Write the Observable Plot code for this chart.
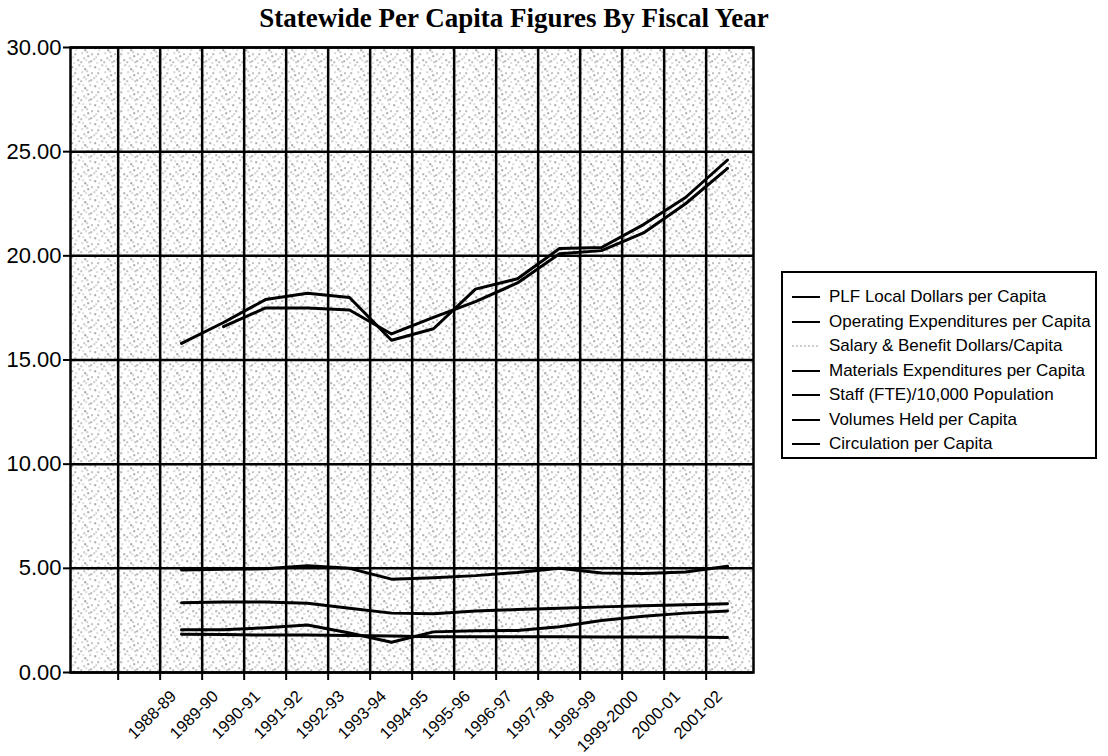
<!DOCTYPE html>
<html>
<head>
<meta charset="utf-8">
<script src="https://cdn.jsdelivr.net/npm/d3@7"></script>
<script src="https://cdn.jsdelivr.net/npm/@observablehq/plot@0.6"></script>
<style>
  html, body { margin: 0; padding: 0; background: #fff; }
  #wrap { position: relative; width: 1108px; height: 756px; overflow: hidden; font-family: "Liberation Sans", Arial, sans-serif; }
  #title { position: absolute; left: 0; top: 3px; width: 1028px; text-align: center;
           font-family: "Liberation Serif", "Times New Roman", serif; font-weight: bold; font-size: 27px; color: #000; }
  #chart { position: absolute; left: 0; top: 25px; }
  #legend { position: absolute; left: 781px; top: 271px; width: 316px; height: 188px; border: 2px solid #000; box-sizing: border-box; }
  .li { position: absolute; left: 8px; height: 20px; display: flex; align-items: center; font-size: 17px; color: #000; white-space: nowrap; }
  .li svg { margin-right: 8px; }
  svg text { fill: #000; }
  g[aria-label="y-axis tick label"] text { font-size: 22px; }
  g[aria-label="x-axis tick label"] text { font-size: 16.5px; }
</style>
</head>
<body>
<div id="wrap">
  <div id="title">Statewide Per Capita Figures By Fiscal Year</div>
  <div id="chart"></div>
  <div id="legend"></div>
</div>
<script>
// ---- data ----
const leadingSlots = ["", " "];           // two unlabeled category slots before 1988-89
const categories = ["1988-89","1989-90","1990-91","1991-92","1992-93","1993-94","1994-95",
                    "1995-96","1996-97","1997-98","1998-99","1999-2000","2000-01","2001-02"];
const yTicks = [0, 5, 10, 15, 20, 25, 30];

const seriesNames = [
  "PLF Local Dollars per Capita",
  "Operating Expenditures per Capita",
  "Salary & Benefit Dollars/Capita",
  "Materials Expenditures per Capita",
  "Staff (FTE)/10,000 Population",
  "Volumes Held per Capita",
  "Circulation per Capita"
];

const plfLocal      = [15.8, 16.8, 17.9, 18.2, 18.0, 15.95, 16.5, 18.4, 18.9, 20.35, 20.4, 21.5, 22.8, 24.6];
const operating     = [null, 16.6, 17.5, 17.5, 17.4, 16.25, 17.05, 17.8, 18.7, 20.1, 20.25, 21.1, 22.5, 24.2];
const salaryBenefit = [];   // not visible in the chart
const materials     = [2.05, 2.05, 2.15, 2.28, 1.9, 1.45, 1.95, 2.0, 2.02, 2.2, 2.5, 2.7, 2.85, 2.95];
const staff         = [3.35, 3.38, 3.38, 3.32, 3.08, 2.85, 2.82, 2.95, 3.02, 3.08, 3.15, 3.2, 3.25, 3.3];
const volumes       = [4.92, 4.95, 4.98, 5.12, 5.0, 4.48, 4.55, 4.65, 4.8, 5.0, 4.78, 4.75, 4.82, 5.1];
const circulation   = [1.84, 1.82, 1.8, 1.8, 1.78, 1.75, 1.72, 1.72, 1.72, 1.72, 1.7, 1.7, 1.7, 1.68];

const seriesValues = [plfLocal, operating, salaryBenefit, materials, staff, volumes, circulation];

// ---- build long table ----
const rows = [];
seriesNames.forEach((name, si) => {
  seriesValues[si].forEach((v, i) => {
    if (v != null) rows.push({series: name, cat: categories[i], value: v});
  });
});

const domain = [...leadingSlots, ...categories];
const W = 770, H = 731, mL = 70, mR = 17, mT = 22, mB = 84;
const bw = (W - mL - mR) / domain.length;

const chart = Plot.plot({
  width: W, height: H,
  marginLeft: mL, marginRight: mR, marginTop: mT, marginBottom: mB,
  style: {fontFamily: "'Liberation Sans', Arial, sans-serif", fontSize: "15px", color: "#000", background: "transparent"},
  x: {type: "band", domain, padding: 0, axis: null, label: null},
  y: {domain: [0, 30], axis: null, label: null},
  marks: [
    Plot.frame({fill: "url(#stipple)", stroke: "none"}),
    Plot.gridY(yTicks, {stroke: "#000", strokeOpacity: 1, strokeWidth: 2.5}),
    Plot.ruleX(domain.slice(1), {x: d => d, dx: -bw / 2, stroke: "#000", strokeWidth: 2.5}),
    Plot.axisX(domain.slice(1), {tickSize: 8, dx: -bw / 2, text: null, label: null, stroke: "#000", strokeWidth: 2}),
    Plot.axisX(categories, {tickSize: 0, tickPadding: 21, dx: -8, tickRotate: -45, label: null}),
    Plot.axisY(yTicks, {tickSize: 7, tickPadding: 2, tickFormat: d3.format(".2f"), label: null, stroke: "#000", strokeWidth: 2}),
    Plot.line(rows, {x: "cat", y: "value", z: "series", stroke: "#000", strokeWidth: 3, strokeLinejoin: "round"}),
    Plot.frame({stroke: "#000", strokeWidth: 2.5})
  ]
});

// stipple texture for the plot background
const ns = "http://www.w3.org/2000/svg";
const defs = document.createElementNS(ns, "defs");
const pat = document.createElementNS(ns, "pattern");
pat.setAttribute("id", "stipple");
pat.setAttribute("width", "23");
pat.setAttribute("height", "19");
pat.setAttribute("patternUnits", "userSpaceOnUse");
const dots = [[2,3,"#333"],[9,1,"#777"],[15,5,"#222"],[20,2,"#888"],[5,9,"#555"],[12,8,"#999"],[18,11,"#333"],
              [1,14,"#888"],[8,15,"#444"],[14,13,"#777"],[21,16,"#555"],[4,18,"#999"],[11,17,"#666"],
              [17,7,"#888"],[22,9,"#444"],[6,5,"#aaa"],[19,17,"#777"],[13,2,"#aaa"],[3,12,"#999"],[16,15,"#aaa"]];
for (const [dx, dy, c] of dots) {
  const r = document.createElementNS(ns, "rect");
  r.setAttribute("x", dx); r.setAttribute("y", dy);
  r.setAttribute("width", 1.3); r.setAttribute("height", 1.3);
  r.setAttribute("fill", c);
  pat.appendChild(r);
}
defs.appendChild(pat);
chart.insertBefore(defs, chart.firstChild);
document.getElementById("chart").appendChild(chart);

// legend
const legend = document.getElementById("legend");
seriesNames.forEach((name, i) => {
  const item = document.createElement("div");
  item.className = "li";
  item.style.top = (14 + i * 24.5) + "px";
  const dashed = seriesValues[i].length === 0;
  item.innerHTML = `<svg width="30" height="6"><line x1="1" y1="3" x2="29" y2="3" stroke="${dashed ? "#999" : "#000"}" stroke-width="${dashed ? 1.2 : 2}" ${dashed ? 'stroke-dasharray="2,2"' : ""}/></svg>`;
  const span = document.createElement("span");
  span.textContent = name;
  item.appendChild(span);
  legend.appendChild(item);
});
</script>
</body>
</html>
